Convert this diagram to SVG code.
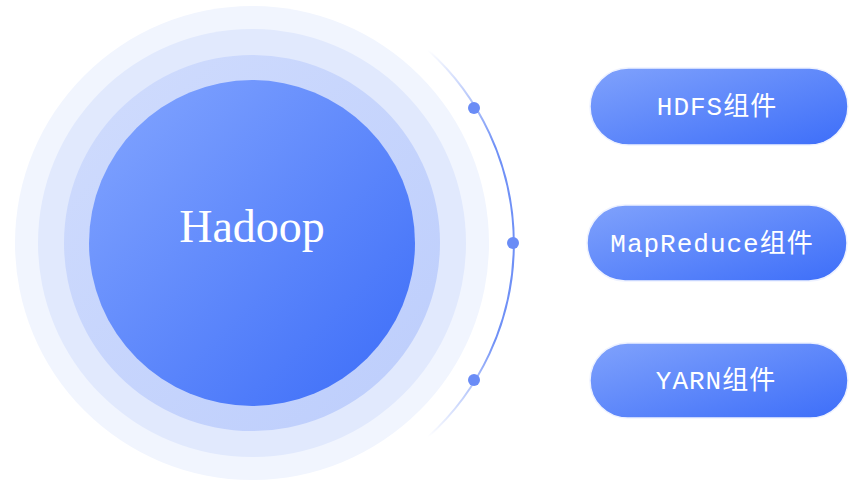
<svg xmlns="http://www.w3.org/2000/svg" width="855" height="488" viewBox="0 0 855 488">
  <defs>
    <linearGradient id="gCore" x1="0" y1="0" x2="1" y2="1">
      <stop offset="0" stop-color="#84a6ff"/>
      <stop offset="1" stop-color="#3b6cf8"/>
    </linearGradient>
    <linearGradient id="gPill" x1="0" y1="0" x2="1" y2="1">
      <stop offset="0" stop-color="#80a2fc"/>
      <stop offset="1" stop-color="#3d6ef9"/>
    </linearGradient>
    <linearGradient id="gRing3" x1="0" y1="0" x2="1" y2="1">
      <stop offset="0" stop-color="#d0dcfd"/>
      <stop offset="1" stop-color="#bccdfc"/>
    </linearGradient>
    <linearGradient id="gArc" gradientUnits="userSpaceOnUse" x1="0" y1="50" x2="0" y2="437">
      <stop offset="0" stop-color="#6f90f6" stop-opacity="0"/>
      <stop offset="0.25" stop-color="#6f90f6" stop-opacity="1"/>
      <stop offset="0.75" stop-color="#6f90f6" stop-opacity="1"/>
      <stop offset="1" stop-color="#6f90f6" stop-opacity="0"/>
    </linearGradient>
    <style>
      .pill { fill: url(#gPill); stroke: #eef2ff; stroke-width: 1.5; }
      .label { font-family: "Liberation Mono", "Noto Sans CJK SC", monospace; font-size: 26px; fill: #ffffff; text-anchor: middle; letter-spacing: 1px; }
      .dot { fill: #6a8cf6; }
    </style>
  </defs>
  <rect width="855" height="488" fill="#ffffff"/>
  <g id="hadoop">
    <circle cx="252" cy="243" r="237" fill="#f1f5fe"/>
    <circle cx="252" cy="243" r="214" fill="#e1e9fd"/>
    <circle cx="252" cy="243" r="188" fill="url(#gRing3)"/>
    <circle cx="252" cy="243" r="163" fill="url(#gCore)"/>
    <text x="252" y="242" font-family="Liberation Serif, serif" font-size="46" fill="#ffffff" text-anchor="middle">Hadoop</text>
  </g>
  <g id="connectors">
    <path d="M428,50 A261,261 0 0 1 428,437" fill="none" stroke="url(#gArc)" stroke-width="2"/>
    <circle class="dot" cx="474" cy="108" r="6"/>
    <circle class="dot" cx="513" cy="243" r="6"/>
    <circle class="dot" cx="474" cy="380" r="6"/>
  </g>
  <g id="hdfs">
    <rect class="pill" x="590" y="68" width="258" height="77" rx="38.5"/>
    <text class="label" x="717" y="115">HDFS组件</text>
  </g>
  <g id="mapreduce">
    <rect class="pill" x="587" y="205" width="260" height="76" rx="38"/>
    <text class="label" x="712" y="252">MapReduce组件</text>
  </g>
  <g id="yarn">
    <rect class="pill" x="590" y="343" width="258" height="75" rx="37.5"/>
    <text class="label" x="716" y="389">YARN组件</text>
  </g>
</svg>
